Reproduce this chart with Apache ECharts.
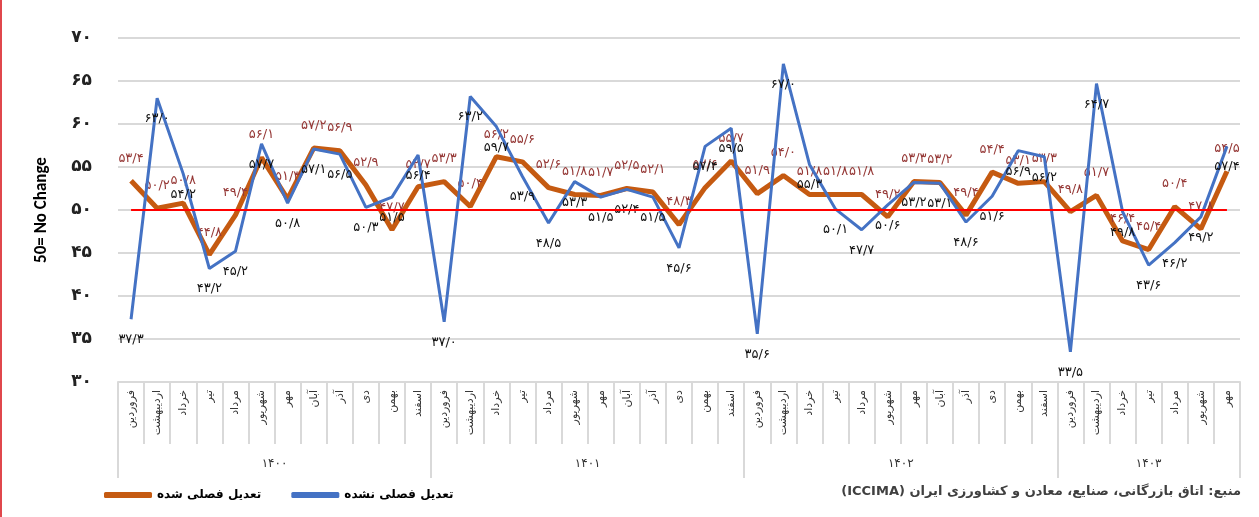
<!DOCTYPE html>
<html><head><meta charset="utf-8">
<script src="https://cdn.jsdelivr.net/npm/echarts@6/dist/echarts.min.js"></script>
<style>
html,body{margin:0;padding:0;background:#fff;}
#c{width:1259px;height:517px;box-sizing:border-box;border-left:2px solid #e0474c;}
</style></head>
<body><div id="c"></div>
<script>
const months = ['فروردین','اردیبهشت','خرداد','تیر','مرداد','شهریور','مهر','آبان','آذر','دی','بهمن','اسفند'];
const years = ['۱۴۰۰','۱۴۰۱','۱۴۰۲','۱۴۰۳'];
const monthsPerYear = [12,12,12,7];
const adjusted = [
  53.4, 50.2, 50.8, 44.8, 49.4, 56.1, 51.3, 57.2, 56.9, 52.9, 47.7, 52.7,
  53.3, 50.4, 56.2, 55.6, 52.6, 51.8, 51.7, 52.5, 52.1, 48.3, 52.6, 55.7,
  51.9, 54.0, 51.8, 51.8, 51.8, 49.2, 53.3, 53.2, 49.4, 54.4, 53.1, 53.3,
  49.8, 51.7, 46.4, 45.4, 50.4, 47.8, 54.5
];
const unadjusted = [
  37.3, 63.0, 54.2, 43.2, 45.2, 57.7, 50.8, 57.1, 56.5, 50.3, 51.5, 56.4,
  37.0, 63.2, 59.7, 53.9, 48.5, 53.3, 51.5, 52.4, 51.5, 45.6, 57.4, 59.5,
  35.6, 67.0, 55.3, 50.1, 47.7, 50.6, 53.2, 53.1, 48.6, 51.6, 56.9, 56.2,
  33.5, 64.7, 49.8, 43.6, 46.2, 49.2, 57.4
];
const seriesNames = ['تعدیل فصلی شده','تعدیل فصلی نشده'];
const yAxisTitle = '50= No Change';
const sourceText = 'منبع: اتاق بازرگانی، صنایع، معادن و کشاورزی ایران (ICCIMA)';

const faDigits = '۰۱۲۳۴۵۶۷۸۹';
function toFa(s){ return String(s).replace(/[0-9]/g, d => faDigits[+d]); }
function fmtVal(v){ return toFa(v.toFixed(1).replace('.', '/')); }

// build categories
const categories = [];
const yearTicks = [-0.5];
const yearCenters = [];
let idx = 0;
monthsPerYear.forEach((n, yi) => {
  for (let i = 0; i < n; i++) categories.push(months[i]);
  yearCenters.push(idx + (n - 1) / 2);
  idx += n;
  yearTicks.push(idx - 0.5);
});
const n = categories.length;

const FA = '"DejaVu Sans", "Noto Sans", sans-serif';
const chart = echarts.init(document.getElementById('c'));
chart.setOption({
  animation: false,
  textStyle: { fontFamily: FA },
  grid: { left: 116, right: 19, top: 38, bottom: 135 },
  legend: {
    left: 97, top: 484,
    itemWidth: 48, itemHeight: 6, itemGap: 30,
    icon: 'roundRect',
    textStyle: { fontSize: 12, fontWeight: 'bold', color: '#000', fontFamily: FA },
    data: [seriesNames[0], seriesNames[1]]
  },
  graphic: [{
    type: 'text', right: 18, top: 485,
    style: { text: '\u202B' + sourceText + '\u202C', font: 'bold 13px ' + FA, fill: '#404040' }
  }],
  xAxis: [{
    type: 'category', data: categories, boundaryGap: true,
    axisLine: { show: true, lineStyle: { color: '#d9d9d9', width: 2 } },
    axisTick: { show: true, interval: 0, length: 62, lineStyle: { color: '#d9d9d9', width: 2 } },
    axisLabel: { interval: 0, rotate: 90, fontSize: 11, color: '#333', margin: 8 },
    splitLine: { show: false }
  }, {
    type: 'value', position: 'bottom', min: -0.5, max: n - 0.5,
    axisLine: { show: false },
    splitLine: { show: false },
    axisTick: { show: true, customValues: yearTicks, length: 96, lineStyle: { color: '#d9d9d9', width: 2 } },
    axisLabel: {
      customValues: yearCenters, margin: 76, fontSize: 12, color: '#333',
      formatter: v => { const k = yearCenters.indexOf(v); return k >= 0 ? years[k] : ''; }
    }
  }],
  yAxis: {
    type: 'value', min: 30, max: 70, interval: 5,
    name: yAxisTitle, nameLocation: 'middle', nameRotate: 90, nameGap: 68,
    nameTextStyle: { fontSize: 17, fontWeight: 'bold', color: '#000', fontFamily: 'Carlito, Calibri, "Open Sans", sans-serif' },
    axisLine: { show: false }, axisTick: { show: false },
    axisLabel: { fontSize: 17, fontWeight: 'bold', color: '#222', margin: 26, formatter: v => toFa(v) },
    splitLine: { lineStyle: { color: '#d9d9d9', width: 2 } }
  },
  series: [{
    name: seriesNames[0], type: 'line', data: adjusted,
    xAxisIndex: 0,
    symbol: 'circle', symbolSize: 0.1, showSymbol: true,
    lineStyle: { color: '#c55a11', width: 5 },
    itemStyle: { color: '#c55a11' },
    z: 2,
    label: { show: true, position: 'top', distance: 16, fontSize: 13, color: '#953735', formatter: p => fmtVal(p.value) },
    markLine: {
      silent: true, symbol: 'none', label: { show: false },
      lineStyle: { color: '#ff0000', width: 2, type: 'solid' },
      data: [[{ coord: [0, 50] }, { coord: [n - 1, 50] }]]
    }
  }, {
    name: seriesNames[1], type: 'line', data: unadjusted,
    xAxisIndex: 0,
    symbol: 'circle', symbolSize: 0.1, showSymbol: true,
    lineStyle: { color: '#4472c4', width: 3 },
    itemStyle: { color: '#4472c4' },
    z: 3,
    label: { show: true, position: 'bottom', distance: 14, fontSize: 13, color: '#111', formatter: p => fmtVal(p.value) }
  }]
});
</script></body></html>
